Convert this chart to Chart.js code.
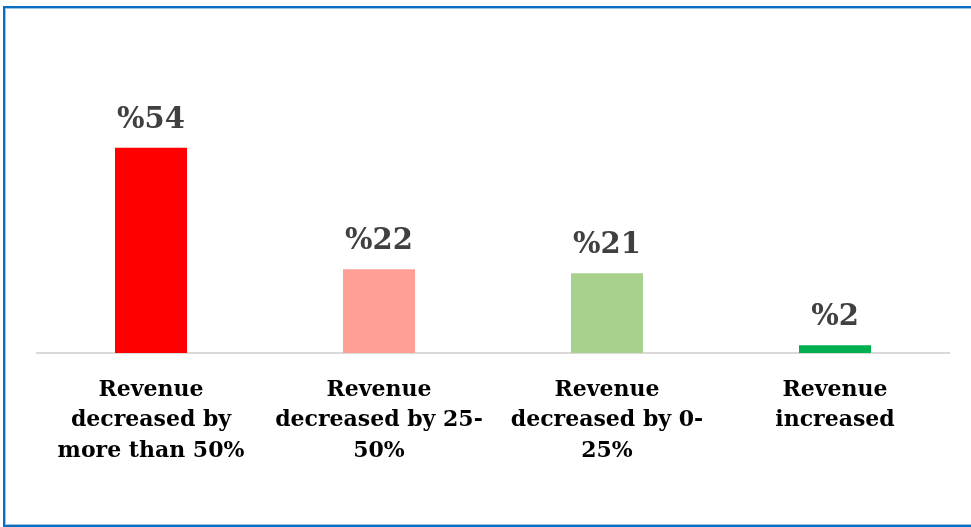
<!DOCTYPE html>
<html>
<head>
<meta charset="utf-8">
<script src="https://cdn.jsdelivr.net/npm/chart.js@4.4.0/dist/chart.umd.min.js"></script>
<style>
  html, body { margin: 0; padding: 0; background: #ffffff; overflow: hidden; }
  #wrap { position: relative; width: 971px; height: 527px; }
  #frame { position: absolute; left: 3px; top: 6px; width: 1000px; height: 517px;
           border: 2px solid #0B6FC1; box-shadow: inset 1px 1px 0 #9DC3E6, inset 0 -1px 0 #9DC3E6; }
  canvas { position: absolute; left: 0; top: 0; }
</style>
</head>
<body>
<div id="wrap">
  <div id="frame"></div>
  <canvas id="c" width="971" height="527"></canvas>
</div>
<script>
const categories = [
  ["Revenue", "decreased by", "more than 50%"],
  ["Revenue", "decreased by 25-", "50%"],
  ["Revenue", "decreased by 0-", "25%"],
  ["Revenue", "increased"]
];
const values = [54, 22, 21, 2];
const valueLabels = ["%54", "%22", "%21", "%2"];
const barColors = ["#FF0000", "#FF9F96", "#A9D18E", "#00B050"];

const valuePlugin = {
  id: "valueLabels",
  afterDatasetsDraw(chart) {
    const ctx = chart.ctx;
    const meta = chart.getDatasetMeta(0);
    ctx.save();
    ctx.font = "bold 29px 'DejaVu Serif'";
    ctx.fillStyle = "#404040";
    ctx.textAlign = "center";
    ctx.textBaseline = "alphabetic";
    meta.data.forEach((bar, i) => {
      ctx.fillText(valueLabels[i], bar.x, bar.y - 20);
    });
    ctx.restore();
  }
};

new Chart(document.getElementById("c"), {
  type: "bar",
  data: {
    labels: categories,
    datasets: [{
      data: values,
      backgroundColor: barColors,
      borderWidth: 0,
      barPercentage: 0.316,
      categoryPercentage: 1.0
    }]
  },
  options: {
    responsive: false,
    animation: false,
    devicePixelRatio: 1,
    layout: { padding: { left: 37, right: 22, top: 125, bottom: 39 } },
    plugins: { legend: { display: false }, tooltip: { enabled: false } },
    scales: {
      x: {
        grid: { display: false, drawTicks: false },
        border: { display: true, color: "#D9D9D9", width: 2 },
        ticks: {
          color: "#000000",
          padding: 22,
          maxRotation: 0,
          autoSkip: false,
          font: { family: "'DejaVu Serif'", weight: "bold", size: 22, lineHeight: 1.38 }
        }
      },
      y: {
        display: false,
        min: 0,
        max: 60
      }
    }
  },
  plugins: [valuePlugin]
});
</script>
</body>
</html>
